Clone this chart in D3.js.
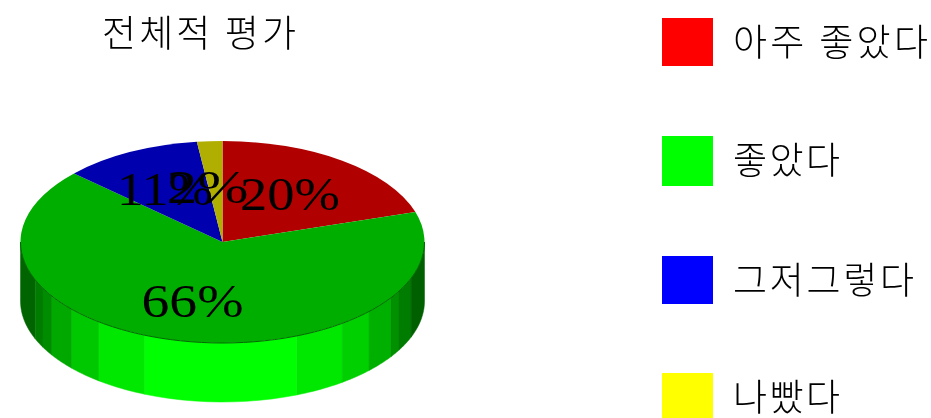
<!DOCTYPE html>
<html><head><meta charset="utf-8">
<script src="https://cdn.jsdelivr.net/npm/d3@7"></script>
<style>html,body{margin:0;padding:0;background:#fff}svg{display:block}</style></head>
<body><svg id="c" width="931" height="418"></svg>
<script>
const titleText = "전체적 평가";
const categories = ["아주 좋았다","좋았다","그저그렇다","나빴다"];
const values = [20,66,11,2];
const legendColors = ["#ff0000","#00ff00","#0000ff","#ffff00"];
const topColors = ["#b00000","#00ae00","#0000ae","#b0ae00"];
const bandEdgesDeg = [90,68,62.7,57.6,48.2,37.7,22.6,-21.6,-36.3,-46.5,-56.5,-60.9,-69,-90];
const bandColors = ["#006400","#007c00","#008c00","#00a800","#00c800","#00e800","#00ff00","#00e800","#00d000","#00b000","#009000","#007c00","#006000"];
const labelCenters = [290,192.5,165,207.5];
const labelBaselines = [210,317,205,203];
const labelWidths = [100,102,96,82];

const svg = d3.select("#c");
const cx=222.5, cy=242, rx=202, ry=101, depth=59;
const pt=(d,y0)=>{const a=d*Math.PI/180;return [cx-rx*Math.sin(a),y0+ry*Math.cos(a)];};
const lg=d3.line();
const g=svg.append("g");
d3.pairs(bandEdgesDeg).forEach((p,i)=>{
  const s=d3.range(0,13).map(k=>p[0]+(p[1]-p[0])*k/12);
  const bot=s.map(d=>pt(d,cy+depth));
  const top=s.slice().reverse().map(d=>pt(d,cy));
  g.append("path").attr("d",lg(bot.concat(top))+"Z").attr("fill",bandColors[i]).attr("stroke",bandColors[i]).attr("stroke-width",.5);
});
// disc
const pie=d3.pie().sort(null).value(d=>d)(values);
const arc=d3.arc().innerRadius(0).outerRadius(1);
const discG=g.append("g").attr("transform",`translate(${cx},${cy}) scale(${rx},${ry})`);
discG.selectAll("path").data(pie).join("path").attr("d",arc).attr("fill",(d,i)=>topColors[i]);
// thin dark rim where the disc meets the wall
g.append("path").attr("d",lg(d3.range(-90,91,3).map(d=>pt(d,cy)))).attr("fill","none").attr("stroke","#006800").attr("stroke-width",1);
// labels
g.selectAll("text.l").data(values).join("text").attr("class","l")
 .attr("x",(d,i)=>labelCenters[i]).attr("y",(d,i)=>labelBaselines[i])
 .attr("text-anchor","middle").attr("font-family","Liberation Serif").attr("font-size",47).attr("fill","#000")
 .attr("textLength",(d,i)=>labelWidths[i]).attr("lengthAdjust","spacingAndGlyphs").text(d=>d+"%");
// title
const kr="'Noto Sans CJK KR'";
svg.append("text").attr("x",199).attr("y",47).attr("text-anchor","middle").attr("font-family",kr).attr("font-weight",300)
 .attr("font-size",37).attr("textLength",194).attr("lengthAdjust","spacing").attr("fill","#000").text(titleText);
// legend
const legendY=d3.scaleOrdinal().domain(categories).range([18,136,256,373]);
const legendRectH=[48,50,48,48];
const legendTextW=[195,107,181,107];
const leg=svg.append("g").selectAll("g").data(categories).join("g");
leg.append("rect").attr("x",662).attr("y",d=>legendY(d)).attr("width",51).attr("height",(d,i)=>legendRectH[i]).attr("fill",(d,i)=>legendColors[i]);
leg.append("text").attr("x",733).attr("y",d=>legendY(d)+38).attr("font-family",kr).attr("font-weight",300).attr("font-size",37)
 .attr("textLength",(d,i)=>legendTextW[i]).attr("lengthAdjust","spacing").attr("fill","#000").text(d=>d);
svg.style("filter","blur(0.7px)");
</script></body></html>
